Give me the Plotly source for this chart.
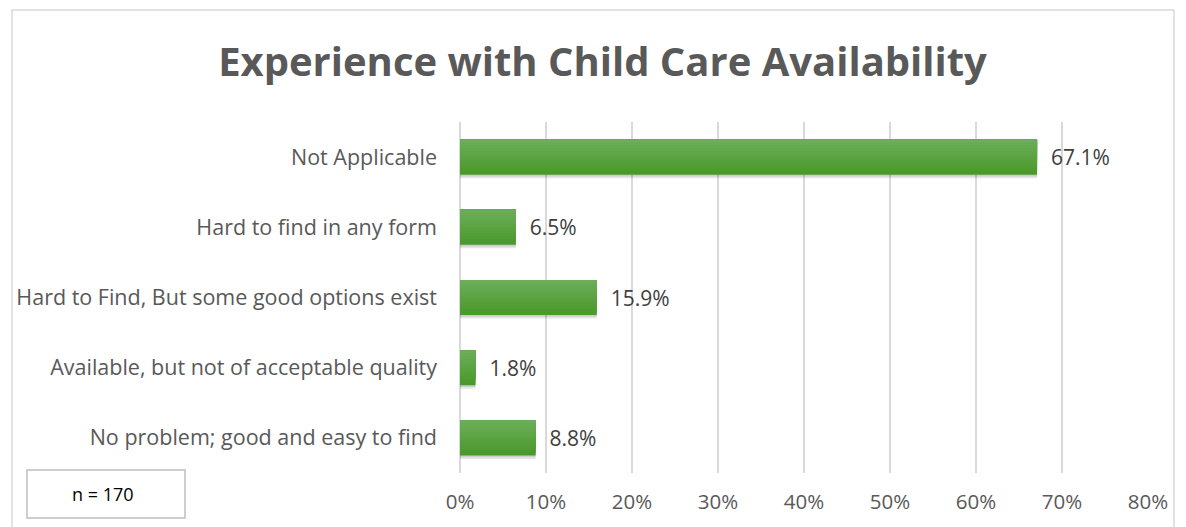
import plotly.graph_objects as go

categories = [
    "No problem; good and easy to find",
    "Available, but not of acceptable quality",
    "Hard to Find, But some good options exist",
    "Hard to find in any form",
    "Not Applicable",
]
values = [8.8, 1.8, 15.9, 6.5, 67.1]
tick_vals = [0, 10, 20, 30, 40, 50, 60, 70, 80]
tick_text = ["0%", "10%", "20%", "30%", "40%", "50%", "60%", "70%", "80%"]
title_text = "Experience with Child Care Availability"
note_text = "n = 170"

W, H = 1186, 527
ML, MR, MT, MB = 460, 38, 122, 54
FONT = "Open Sans, sans-serif"

fig = go.Figure()

BAR_W = 0.5
# soft shadow beneath bars
fig.add_trace(go.Bar(
    y=categories, x=values, orientation="h",
    width=BAR_W, offset=-BAR_W / 2 - 0.05,
    marker=dict(color="rgba(0,0,0,0.10)", line=dict(width=0)),
    hoverinfo="skip",
))
fig.add_trace(go.Bar(
    y=categories, x=values, orientation="h",
    width=BAR_W, offset=-BAR_W / 2 - 0.025,
    marker=dict(color="rgba(0,0,0,0.10)", line=dict(width=0)),
    hoverinfo="skip",
))

# vertical gradient (dark bottom -> light top), overlapping bands avoid seams
N = 12
c0 = (0x4a, 0x99, 0x2b)
c1 = (0x6b, 0xad, 0x58)
step = BAR_W / N
for i in range(N):
    t = i / (N - 1)
    col = "rgb({},{},{})".format(*[round(a + (b - a) * t) for a, b in zip(c0, c1)])
    fig.add_trace(go.Bar(
        y=categories, x=values, orientation="h",
        width=BAR_W - i * step, offset=-BAR_W / 2 + i * step,
        marker=dict(color=col, line=dict(width=0)),
        hoverinfo="skip",
    ))

# labels
fig.add_trace(go.Bar(
    y=categories, x=values, orientation="h",
    width=BAR_W, offset=-BAR_W / 2,
    marker=dict(color="rgba(0,0,0,0)", line=dict(width=0)),
    text=[f"{v:.1f}%" for v in values],
    textposition="outside",
    texttemplate="  %{text}",
    textfont=dict(family=FONT, size=21, color="#404040"),
    cliponaxis=False,
    hoverinfo="skip",
))

fig.update_layout(
    width=W, height=H,
    margin=dict(l=ML, r=MR, t=MT, b=MB),
    paper_bgcolor="white", plot_bgcolor="white",
    showlegend=False,
    barmode="overlay",
    hovermode=False,
    title=dict(text=f"<b>{title_text}</b>", x=0.508, xanchor="center", y=0.882, yanchor="middle",
               font=dict(family=FONT, size=40, color="#595959")),
    xaxis=dict(range=[0, 80], tickvals=tick_vals, ticktext=tick_text,
               showgrid=True, gridcolor="#d9d9d9", gridwidth=2,
               zeroline=True, zerolinecolor="#d9d9d9", zerolinewidth=2,
               showline=False, ticks="", ticklen=0, ticklabelstandoff=14,
               fixedrange=True,
               tickfont=dict(family=FONT, size=20.5, color="#595959")),
    yaxis=dict(showgrid=False, zeroline=False, showline=False, ticks="",
               ticklabelstandoff=22, fixedrange=True,
               tickfont=dict(family=FONT, size=21.5, color="#595959")),
)

# outer chart border
fig.add_shape(type="rect", xref="paper", yref="paper",
              x0=(12 - ML) / (W - ML - MR), x1=(1174 - ML) / (W - ML - MR),
              y0=(H - MB - 540) / (H - MT - MB), y1=(H - MB - 10) / (H - MT - MB),
              line=dict(color="#d9d9d9", width=1.5), fillcolor="rgba(0,0,0,0)", layer="below")

# n = 170 box
fig.add_shape(type="rect", xref="paper", yref="paper",
              x0=(27 - ML) / (W - ML - MR), x1=(185 - ML) / (W - ML - MR),
              y0=(H - MB - 518) / (H - MT - MB), y1=(H - MB - 470) / (H - MT - MB),
              line=dict(color="#bfbfbf", width=1.5), fillcolor="white")
fig.add_annotation(xref="paper", yref="paper",
                   x=(103 - ML) / (W - ML - MR), y=(H - MB - 494) / (H - MT - MB),
                   xanchor="center", yanchor="middle",
                   text=note_text, showarrow=False,
                   font=dict(family=FONT, size=18, color="#000000"))

fig.write_html("out.html", config={"displayModeBar": False, "staticPlot": True},
               post_script="document.body.style.margin='0';document.body.style.overflow='hidden';")
